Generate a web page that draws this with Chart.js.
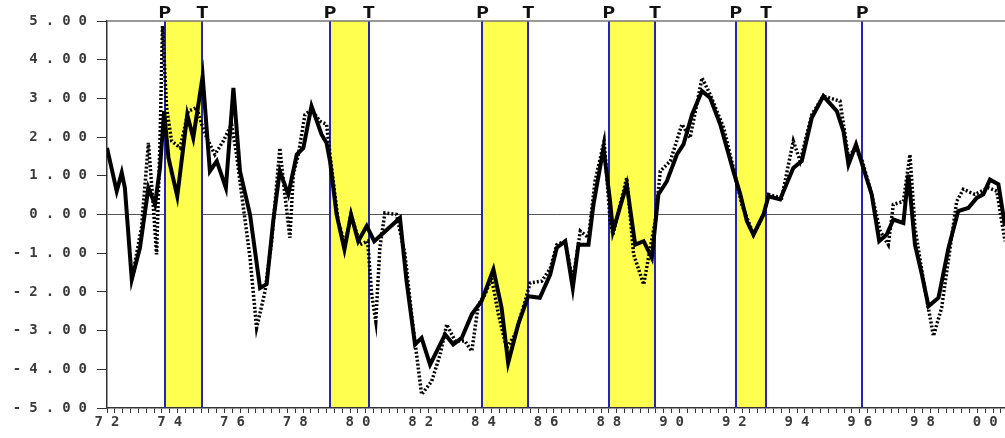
<!DOCTYPE html>
<html>
<head>
<meta charset="utf-8">
<script src="https://cdn.jsdelivr.net/npm/chart.js@4.4.1/dist/chart.umd.min.js"></script>
<style>
  html, body { margin: 0; padding: 0; background: #fff; }
  #wrap { width: 1005px; height: 438px; position: relative; }
</style>
</head>
<body>
<div id="wrap"><canvas id="chart"></canvas></div>
<script>
// --- data ---
const solidYears = [
  1972.00, 1972.31, 1972.47, 1972.57, 1972.79, 1973.05, 1973.32, 1973.53, 1973.69, 1973.82,
  1973.96, 1974.24, 1974.56, 1974.75, 1975.05, 1975.28, 1975.50, 1975.79, 1976.03, 1976.24,
  1976.56, 1976.88, 1977.09, 1977.30, 1977.51, 1977.78, 1978.05, 1978.26, 1978.52, 1978.84,
  1979.00, 1979.11, 1979.32, 1979.57, 1979.78, 1980.01, 1980.28, 1980.52, 1981.34, 1981.55,
  1981.82, 1982.03, 1982.30, 1982.78, 1983.04, 1983.31, 1983.63, 1983.94, 1984.32, 1984.58,
  1984.79, 1985.11, 1985.43, 1985.80, 1986.13, 1986.34, 1986.61, 1986.85, 1987.03, 1987.35,
  1987.51, 1987.83, 1988.04, 1988.13, 1988.57, 1988.84, 1989.11, 1989.37, 1989.58, 1989.85,
  1990.17, 1990.38, 1990.65, 1990.97, 1991.23, 1991.55, 1991.97, 1992.19, 1992.40, 1992.61,
  1992.93, 1993.09, 1993.46, 1993.88, 1994.15, 1994.47, 1994.84, 1995.27, 1995.48, 1995.64,
  1995.88, 1996.08, 1996.38, 1996.62, 1996.86, 1997.07, 1997.39, 1997.55, 1997.76, 1997.98,
  1998.19, 1998.51, 1998.83, 1999.14, 1999.46, 1999.73, 1999.94, 2000.15, 2000.42, 2000.63
];
const solidValues = [
  1.72, 0.60, 1.08, 0.69, -1.68, -0.86, 0.69, 0.26, 1.20, 2.67,
  1.46, 0.47, 2.58, 1.98, 3.57, 1.12, 1.38, 0.69, 3.27, 1.12,
  0.00, -1.90, -1.80, -0.17, 1.12, 0.52, 1.55, 1.72, 2.80, 2.07,
  1.85, 1.38, 0.00, -0.90, 0.00, -0.69, -0.30, -0.69, -0.09, -1.72,
  -3.36, -3.19, -3.88, -3.10, -3.36, -3.19, -2.58, -2.24, -1.42, -2.41,
  -3.83, -2.84, -2.11, -2.15, -1.55, -0.86, -0.69, -1.90, -0.78, -0.78,
  0.26, 1.72, 0.34, -0.43, 0.78, -0.78, -0.69, -1.12, 0.52, 0.86,
  1.55, 1.81, 2.58, 3.19, 3.01, 2.33, 1.12, 0.52, -0.17, -0.52,
  0.00, 0.47, 0.39, 1.20, 1.38, 2.50, 3.06, 2.67, 2.15, 1.29,
  1.81, 1.29, 0.52, -0.69, -0.52, -0.13, -0.22, 1.03, -0.78, -1.55,
  -2.37, -2.15, -0.86, 0.09, 0.17, 0.43, 0.52, 0.90, 0.78, -0.30
];

const dottedYears = [
  1972.79, 1973.10, 1973.32, 1973.48, 1973.58, 1973.69, 1973.77, 1973.90, 1974.06, 1974.33,
  1974.59, 1974.86, 1975.02, 1975.18, 1975.44, 1975.71, 1975.97, 1976.13, 1976.35, 1976.56,
  1976.77, 1977.04, 1977.25, 1977.51, 1977.67, 1977.83, 1977.94, 1978.10, 1978.31, 1978.52,
  1978.79, 1979.00, 1979.11, 1979.37, 1979.59, 1979.78, 1980.07, 1980.31, 1980.44, 1980.57,
  1980.70, 1980.86, 1981.23, 1981.50, 1981.71, 1982.03, 1982.35, 1982.62, 1982.83, 1983.10,
  1983.41, 1983.63, 1983.84, 1984.05, 1984.26, 1984.48, 1984.74, 1985.01, 1985.33, 1985.49,
  1985.86, 1986.13, 1986.34, 1986.61, 1986.85, 1987.09, 1987.35, 1987.56, 1987.85, 1988.04,
  1988.13, 1988.57, 1988.79, 1989.11, 1989.32, 1989.48, 1989.64, 1989.96, 1990.33, 1990.59,
  1990.97, 1991.23, 1991.66, 1991.97, 1992.24, 1992.61, 1992.93, 1993.09, 1993.30, 1993.51,
  1993.88, 1994.10, 1994.47, 1994.84, 1995.37, 1995.64, 1995.85, 1996.08, 1996.38, 1996.65,
  1996.91, 1997.07, 1997.39, 1997.60, 1997.76, 1998.03, 1998.35, 1998.61, 1998.88, 1999.09,
  1999.30, 1999.67, 2000.10, 2000.37, 2000.63
];
const dottedValues = [
  -1.68, -0.34, 1.85, 0.17, -1.03, 1.90, 4.87, 2.76, 1.90, 1.72,
  2.67, 2.76, 2.33, 1.98, 1.55, 1.90, 2.33, 1.55, 0.17, -1.12,
  -2.93, -1.98, -0.69, 1.72, 0.52, -0.60, 1.03, 1.55, 2.58, 2.71,
  2.41, 2.33, 1.55, -0.17, -0.78, 0.00, -0.78, -0.69, -2.07, -2.76,
  -0.86, 0.04, 0.00, -1.03, -2.58, -4.65, -4.31, -3.62, -2.84, -3.27,
  -3.27, -3.53, -2.33, -2.07, -1.64, -2.58, -3.45, -3.10, -2.24, -1.77,
  -1.72, -1.40, -0.78, -0.69, -1.72, -0.43, -0.60, 0.86, 1.90, -0.17,
  -0.52, 0.95, -1.03, -1.81, -0.86, -0.17, 1.12, 1.38, 2.33, 1.98,
  3.53, 3.10, 2.24, 1.20, 0.26, -0.52, 0.00, 0.52, 0.47, 0.43,
  1.90, 1.38, 2.58, 3.06, 2.93, 1.46, 1.72, 1.38, 0.52, -0.43,
  -0.78, 0.26, 0.34, 1.55, -0.34, -1.72, -3.14, -2.41, -0.86, 0.34,
  0.65, 0.52, 0.69, 0.60, -0.69
];

// turning points (P = peak, T = trough)
const peaks = [1973.84, 1979.11, 1983.97, 1988.00, 1992.05, 1996.08];
const troughs = [1975.04, 1980.35, 1985.43, 1989.47, 1993.01];

// axes
const xMin = 1972, xMax = 2000.63;
const xLabelYears = [1972, 1974, 1976, 1978, 1980, 1982, 1984, 1986, 1988, 1990, 1992, 1994, 1996, 1998, 2000];
const yTicks = [-5, -4, -3, -2, -1, 0, 1, 2, 3, 4, 5];

const quarterTicks = [];
for (let q = 0; xMin + q * 0.25 <= xMax; q++) quarterTicks.push(xMin + q * 0.25);

const tickFont = { family: 'DejaVu Sans Mono', size: 14, weight: 'bold' };

// shading, blue lines, top border and P/T letters
const cyclePlugin = {
  id: 'cycles',
  beforeDraw(chart) {
    chart.ctx.letterSpacing = '8px';
  },
  beforeDatasetsDraw(chart) {
    const { ctx, chartArea: a, scales: { x } } = chart;
    ctx.save();
    ctx.fillStyle = '#ffff4f';
    peaks.forEach((p, i) => {
      if (troughs[i] === undefined) return;
      const x1 = x.getPixelForValue(p), x2 = x.getPixelForValue(troughs[i]);
      ctx.fillRect(x1, a.top, x2 - x1, a.bottom - a.top - 1);
    });
    ctx.strokeStyle = '#2424b8';
    ctx.lineWidth = 2;
    peaks.concat(troughs).forEach(v => {
      const px = Math.round(x.getPixelForValue(v));
      ctx.beginPath();
      ctx.moveTo(px, a.top);
      ctx.lineTo(px, a.bottom);
      ctx.stroke();
    });
    ctx.strokeStyle = '#777';
    ctx.lineWidth = 1.5;
    ctx.beginPath();
    ctx.moveTo(a.left, a.top);
    ctx.lineTo(a.right, a.top);
    ctx.stroke();
    ctx.restore();
  },
  afterDraw(chart) {
    const { ctx, chartArea: a, scales: { x } } = chart;
    ctx.save();
    ctx.letterSpacing = '0px';
    ctx.fillStyle = '#111';
    ctx.font = 'bold 15px "DejaVu Sans Mono"';
    ctx.textAlign = 'center';
    ctx.textBaseline = 'alphabetic';
    const mark = (v, s) => {
      ctx.save();
      ctx.translate(x.getPixelForValue(v), a.top - 3);
      ctx.scale(1.45, 1);
      ctx.fillText(s, 0, 0);
      ctx.restore();
    };
    peaks.forEach(v => mark(v, 'P'));
    troughs.forEach(v => mark(v, 'T'));
    ctx.restore();
  }
};

new Chart(document.getElementById('chart'), {
  type: 'line',
  data: {
    datasets: [
      {
        label: 'solid',
        data: solidYears.map((x, i) => ({ x, y: solidValues[i] })),
        borderColor: '#000',
        borderWidth: 4,
        pointRadius: 0,
        tension: 0,
        fill: false
      },
      {
        label: 'dotted',
        data: dottedYears.map((x, i) => ({ x, y: dottedValues[i] })),
        borderColor: '#000',
        borderWidth: 3.5,
        borderDash: [2, 2],
        pointRadius: 0,
        tension: 0,
        fill: false
      }
    ]
  },
  options: {
    responsive: true,
    maintainAspectRatio: false,
    animation: false,
    layout: { padding: { top: 21, left: 0, right: 0, bottom: 0 } },
    plugins: { legend: { display: false }, tooltip: { enabled: false } },
    scales: {
      x: {
        type: 'linear',
        min: xMin,
        max: xMax,
        afterBuildTicks(s) { s.ticks = quarterTicks.map(v => ({ value: v })); },
        afterFit(s) { s.height = 30; },
        grid: { drawOnChartArea: false, drawTicks: true, tickLength: 5, tickColor: '#333', tickWidth: 1 },
        border: { color: '#333', width: 1.5 },
        ticks: {
          autoSkip: false,
          maxRotation: 0,
          padding: 1,
          labelOffset: 4,
          color: '#3a3a3a',
          font: tickFont,
          callback(v) {
            const yr = Math.round(v);
            if (Math.abs(v - yr) > 1e-6 || !xLabelYears.includes(yr)) return '';
            return String(yr % 100).padStart(2, '0');
          }
        }
      },
      y: {
        min: -5,
        max: 5,
        afterBuildTicks(s) { s.ticks = yTicks.map(v => ({ value: v })); },
        afterFit(s) { s.width = 107; },
        grid: {
          color: c => (c.tick && c.tick.value === 0 ? '#555' : 'rgba(0,0,0,0)'),
          lineWidth: 1,
          tickColor: '#333',
          tickLength: 10
        },
        border: { color: '#333', width: 1.5 },
        ticks: {
          padding: 2,
          color: '#3a3a3a',
          font: tickFont,
          callback: v => v.toFixed(2)
        }
      }
    }
  },
  plugins: [cyclePlugin]
});
</script>
</body>
</html>
